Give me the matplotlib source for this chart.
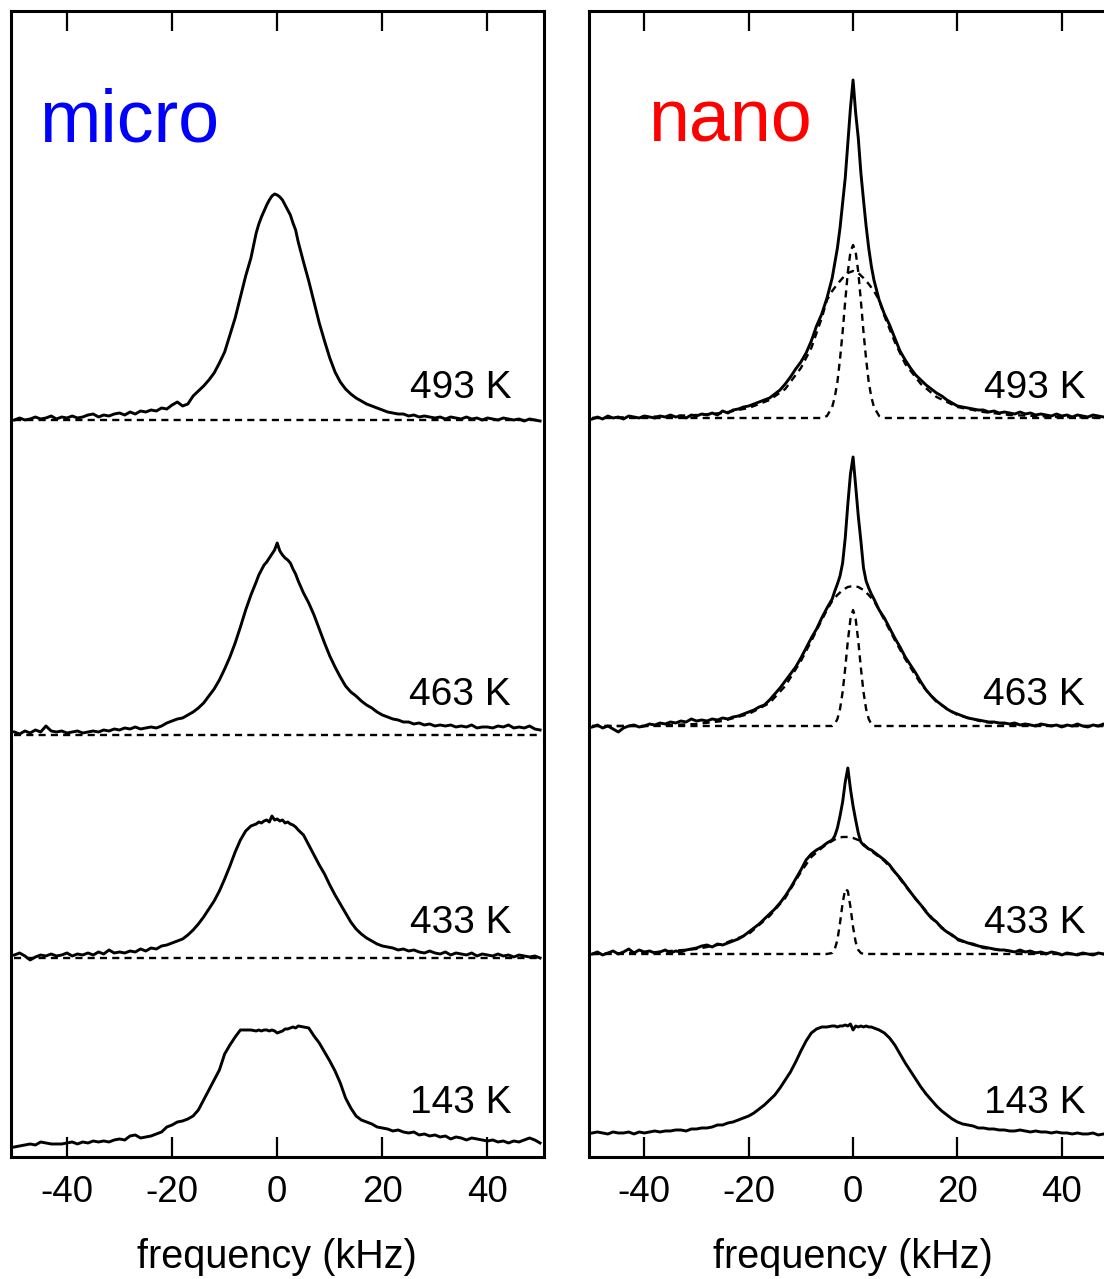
import numpy as np
import matplotlib.pyplot as plt

plt.rcParams['font.family'] = ['Liberation Sans', 'DejaVu Sans']

freq = np.r_[np.arange(-50, -4), np.arange(-4, 4.5, 0.5), np.arange(5, 51)]

temps = ['493 K', '463 K', '433 K', '143 K']

# ---- micro: measured spectra (intensity above each baseline, a.u.) ----
micro_493 = [0, 2, 0, 1, 3, 1, 2, 4, 1, 3, 2, 4, 2, 3, 5, 6, 3, 5, 4, 6,
             7, 5, 8, 6, 9, 8, 10, 9, 12, 11, 15, 18, 14, 16, 24, 29, 34, 40, 47, 57,
             68, 85, 102, 123, 144, 162,
             187, 196, 203, 209, 215, 220, 224, 226, 225, 223, 220, 215, 210, 205, 197, 190, 178,
             158, 139, 118, 97, 79, 62,
             48, 38, 31, 26, 22, 19, 16, 14, 12, 10, 8, 7, 6, 6, 4, 5, 3, 4, 3, 2,
             3, 1, 3, 2, 1, 3, 1, 2, 0, 2, 1, 0, 2, 1, 0, 1, -1, 1, 0, -1]
micro_463 = [3, 1, 4, 2, 5, 3, 9, 4, 3, 4, 2, 3, 4, 2, 3, 4, 3, 5, 4, 6,
             5, 7, 6, 8, 6, 7, 8, 7, 9, 12, 14, 16, 17, 20, 23, 27, 32, 39, 46, 55,
             66, 78, 92, 108, 125, 140,
             153, 160, 165, 170, 173, 177, 181, 185, 192, 184, 180, 177, 175, 172, 166, 161, 154,
             142, 132, 120, 106, 92, 79,
             68, 58, 49, 43, 39, 34, 30, 27, 23, 20, 18, 16, 15, 13, 13, 11, 12, 10, 11, 9,
             10, 9, 10, 8, 9, 8, 10, 7, 8, 8, 7, 9, 8, 10, 7, 8, 7, 9, 6, 5]
micro_433 = [3, 5, 2, -2, 1, 3, 2, 4, 2, 3, 5, 2, 4, 3, 5, 3, 6, 4, 8, 5,
             6, 5, 7, 6, 9, 7, 10, 9, 12, 13, 15, 17, 19, 23, 28, 34, 41, 49, 57, 67,
             79, 92, 106, 118, 127, 132,
             134, 136, 135, 137, 138, 136, 142, 138, 139, 137, 138, 135, 136, 134, 133, 131, 128,
             123, 113, 103, 93, 84, 73,
             63, 54, 45, 36, 29, 24, 20, 17, 14, 12, 11, 10, 8, 9, 7, 8, 6, 5, 7, 5,
             4, 6, 3, 5, 4, 3, 5, 2, 4, 3, 2, 4, 2, 3, 1, 3, 2, 1, 2, 0]
micro_143 = [-7, -6, -5, -4, -5, -2, -3, -4, -4, -4, -3, -2, -4, -2, -3, -1, -2, -1, -2, 0,
             1, 0, 4, 5, 2, 3, 4, 6, 8, 13, 15, 18, 19, 21, 24, 30, 40, 50, 60, 70,
             86, 95, 103, 110, 110, 110,
             109, 110, 109, 110, 110, 109, 110, 109, 107, 108, 109, 111, 111, 112, 113, 112, 114,
             113, 112, 104, 97, 88, 79,
             69, 57, 42, 32, 24, 20, 18, 16, 13, 12, 11, 9, 10, 8, 7, 8, 5, 6, 4, 5,
             3, 4, 1, 3, 2, 0, 2, 1, 0, -1, 0, -2, -1, -3, -1, -2, 0, 2, 0, -3]

# ---- nano: measured spectra ----
nano_493 = [-1, 1, -1, 2, 0, 1, -1, 2, 1, 0, 2, 1, 0, 2, 1, 3, 1, 2, 0, 3,
            2, 4, 3, 5, 3, 7, 5, 8, 9, 11, 12, 14, 16, 18, 20, 24, 28, 34, 41, 49,
            56, 65, 77, 92, 104, 120,
            140, 155, 170, 190, 215, 240, 275, 310, 338, 305, 280, 245, 218, 192, 170, 152, 138,
            118, 104, 93, 80, 67, 58,
            50, 43, 38, 33, 29, 25, 22, 18, 15, 12, 11, 10, 9, 8, 8, 6, 7, 5, 6, 5,
            4, 6, 4, 5, 3, 4, 3, 2, 4, 2, 3, 1, 3, 2, 1, 3, 2, 1, 2, 1]
nano_463 = [-1, 1, -2, 0, -3, -6, -2, 0, 1, -1, 0, 2, 1, 3, 2, 4, 3, 5, 4, 7,
            5, 6, 5, 7, 6, 8, 7, 9, 10, 12, 14, 16, 19, 21, 26, 32, 38, 45, 52, 59,
            68, 78, 88, 97, 108, 118,
            127, 135, 142, 150, 163, 188, 222, 252, 269, 240, 210, 185, 158, 145, 138, 132, 127,
            116, 108, 98, 88, 79, 69,
            61, 53, 44, 36, 30, 25, 21, 17, 14, 12, 10, 8, 7, 6, 5, 4, 4, 3, 3, 2,
            3, 1, 2, 1, 0, 2, 1, 0, 1, -1, 1, 0, 2, 0, -1, 1, 0, 2, -1, 1]
nano_433 = [0, 2, -1, 1, 3, 0, 2, 5, 1, 4, 2, 3, 1, 2, 4, 1, 3, 2, 4, 5,
            6, 8, 9, 7, 10, 9, 11, 13, 15, 18, 22, 26, 30, 35, 40, 45, 51, 58, 66, 75,
            84, 94, 100, 104, 107, 111,
            114, 118, 126, 138, 152, 172, 186, 165, 148, 134, 121, 112, 109, 107, 105, 104, 102,
            98, 94, 89, 82, 76, 69,
            62, 55, 49, 42, 36, 32, 26, 22, 19, 15, 13, 11, 10, 8, 7, 6, 5, 4, 4, 3,
            2, 4, 2, 3, 1, 2, 0, 2, 1, -1, 1, 0, -1, 1, 0, -1, 1, 0, -1, 0]
nano_143 = [0, 1, 0, -1, 1, 0, 0, 1, -1, 1, 0, 1, 2, 1, 2, 2, 3, 3, 2, 4,
            4, 5, 5, 6, 8, 8, 10, 11, 13, 15, 17, 20, 24, 28, 33, 38, 45, 53, 61, 71,
            82, 92, 100, 104, 106, 106,
            107, 107, 106, 107, 107, 108, 107, 109, 103, 107, 106, 107, 106, 107, 106, 106, 105,
            103, 100, 95, 88, 79, 70,
            62, 54, 46, 39, 33, 27, 22, 18, 14, 11, 9, 8, 7, 5, 5, 4, 4, 3, 3, 2,
            2, 3, 2, 1, 2, 1, 1, 0, 1, 0, 0, -1, 0, -1, -1, 0, -2, -1, -2, -1]

# ---- nano: two-component fits (dashed) ----
fit_freq = [-50, -40, -30, -25, -20, -16, -13, -10, -8, -6, -5, -4, -3, -2, -1, 0,
            1, 2, 3, 4, 5, 6, 8, 10, 13, 16, 20, 25, 30, 40, 50]
broad_493 = [0, 1, 3, 5, 10, 18, 29, 50, 70, 100, 118, 127, 134, 140, 145, 147,
             145, 140, 134, 127, 118, 102, 76, 54, 34, 21, 11, 6, 3, 1, 0]
broad_463 = [0, 0, 2, 5, 12, 23, 40, 65, 85, 106, 116, 125, 131, 136, 139, 140,
             139, 136, 131, 125, 116, 106, 86, 67, 42, 24, 11, 4, 2, 0, 0]
broad_433 = [0, 1, 5, 10, 20, 38, 56, 82, 97, 106, 110, 113, 116, 117, 117, 116,
             114, 110, 105, 101, 97, 93, 82, 68, 49, 31, 14, 6, 3, 0, 0]

narrow_freq = [-50, -6, -5, -4, -3.5, -3, -2.5, -2, -1.5, -1, -0.5, 0,
               0.5, 1, 1.5, 2, 2.5, 3, 3.5, 4, 5, 6, 50]
narrow_493 = [0, 0, 2, 11, 21, 36, 59, 86, 117, 146, 166, 173,
              166, 146, 117, 86, 59, 36, 21, 11, 2, 0, 0]
narrow_463 = [0, 0, 0, 0, 2, 7, 17, 34, 58, 85, 107, 116,
              107, 85, 58, 34, 17, 7, 2, 0, 0, 0, 0]
narrow_433 = [0, 0, 0, 1, 5, 14, 31, 51, 65, 63, 47, 27,
              12, 4, 1, 0, 0, 0, 0, 0, 0, 0, 0]

micro_spectra = [micro_493, micro_463, micro_433, micro_143]
nano_spectra = [nano_493, nano_463, nano_433, nano_143]
nano_broad = [broad_493, broad_463, broad_433]
nano_narrow = [narrow_493, narrow_463, narrow_433]

tick_vals = [-40, -20, 0, 20, 40]
tick_labels = ['-40', '-20', '0', '20', '40']

# ---- layout ----
micro_offsets = [737, 422, 199, 17]
nano_offsets = [739, 431, 203, 24]
label_y = [759, 452, 224, 44]

fig = plt.figure(figsize=(11.04, 12.79), dpi=100)
ax_micro = fig.add_axes([0.0097, 0.0954, 0.4828, 0.896])
ax_nano = fig.add_axes([0.5331, 0.0954, 0.4792, 0.896])

solid = dict(color='black', lw=2.1, zorder=3)
dashed = dict(color='black', lw=1.7, ls=(0, (3, 2.2)), zorder=2)

# micro panel
for i, (spec, off) in enumerate(zip(micro_spectra, micro_offsets)):
    if i < 3:
        ax_micro.plot(freq[[0, -1]], [off, off], **dashed)
    ax_micro.plot(freq, np.array(spec) + off, **solid)

# nano panel
for i, (spec, off) in enumerate(zip(nano_spectra, nano_offsets)):
    if i < 3:
        ax_nano.plot(fit_freq, np.array(nano_broad[i]) + off, **dashed)
        ax_nano.plot(narrow_freq, np.array(nano_narrow[i]) + off, **dashed)
    ax_nano.plot(freq, np.array(spec) + off, **solid)

for ax, name, color, name_x in [(ax_micro, 'micro', 'blue', -45.3),
                                (ax_nano, 'nano', 'red', -39.3)]:
    ax.set_xlim(-50.7, 50.7)
    ax.set_ylim(0, 1146)
    ax.set_yticks([])
    ax.set_xticks(tick_vals)
    ax.set_xticklabels(tick_labels)
    ax.tick_params(axis='x', direction='in', length=14.5, width=1.6,
                   top=True, labelsize=26.5, pad=13)
    for s in ax.spines.values():
        s.set_linewidth(2.2)
    ax.set_xlabel('frequency (kHz)', fontsize=28.5, labelpad=20)
    ax.text(name_x, 1015, name, color=color, fontsize=53, ha='left', va='baseline')
    for t, y in zip(temps, label_y):
        ax.text(44.5, y, t, fontsize=28, ha='right', va='baseline')

fig.savefig('out.png', dpi=100)
